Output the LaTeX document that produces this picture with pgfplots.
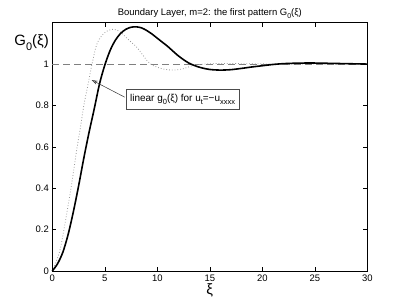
\documentclass[border=0pt]{standalone}
\usepackage{fontspec}
\setmainfont{Liberation Sans}
\usepackage{pgfplots}
\pgfplotsset{compat=1.18}
\usetikzlibrary{arrows.meta}
% lowered subscript, MATLAB style
\newcommand\sub[2]{\raisebox{-0.55ex}{\fontsize{#1}{#1}\selectfont #2}}

\begin{document}
\begin{tikzpicture}
\path[use as bounding box] (-52.3bp,-34bp) rectangle (353.7bp,271bp);
\begin{axis}[
  scale only axis, width=315bp, height=248.3bp,
  xmin=0, xmax=30, ymin=0, ymax=1.2,
  xtick={0,5,...,30}, ytick={0,0.2,0.4,0.6,0.8,1},
  tick align=inside, major tick length=4bp,
  axis line style={line width=0.7pt},
  every tick/.style={black, line width=0.5pt},
  ticklabel style={font=\fontsize{9.5}{10}\selectfont},
  /pgf/number format/assume math mode=true,
  title={Boundary Layer, m=2: the first pattern G\sub{7}{0}(ξ)},
  title style={font=\fontsize{9.5}{10}\selectfont, yshift=-5bp},
  xlabel={ξ}, xlabel style={font=\fontsize{15}{16}\selectfont, yshift=4bp},
  clip=false,
]
\addplot[gray, line width=0.6pt, dash pattern=on 7bp off 4bp] coordinates {(0,1) (30,1)};
\addplot[gray!80, dotted, line width=0.8pt, smooth] coordinates {
(0,0) (0.3,0.035) (0.73,0.1) (1.11,0.2) (1.45,0.3) (1.78,0.4) (2.08,0.5)
(2.37,0.6) (2.7,0.7) (3.0,0.8) (3.4,0.9) (3.74,0.99) (4.2,1.09) (4.6,1.13)
(5.0,1.152) (5.4,1.164) (5.8,1.168) (6.2,1.163) (6.6,1.15) (7.2,1.12)
(8.0,1.084) (8.6,1.045) (9.1,1.012) (9.6,0.993) (10.5,0.977) (11.5,0.971)
(12.5,0.978) (13.4,0.993) (14.5,1.0) (16,1.003) (18,1.002) (20,1.001)
(22,1.0) (25,1.0) (30,1.0)};
\addplot[black, line width=1.6pt, smooth] coordinates {
(0,0) (0.5,0.035) (1.0,0.09) (1.5,0.175) (2.0,0.285) (2.5,0.41) (3.0,0.545)
(3.5,0.67) (4.0,0.785) (4.5,0.905) (5.0,0.995) (5.5,1.065) (6.0,1.115)
(6.5,1.148) (7.0,1.168) (7.5,1.178) (8.0,1.18) (8.5,1.175) (9.0,1.162)
(9.5,1.145) (10,1.125) (10.5,1.105) (11,1.085) (12,1.04) (13,1.005)
(14,0.985) (15,0.974) (16,0.971) (17,0.973) (18,0.979) (19,0.986)
(20,0.992) (21,0.998) (22,1.002) (23,1.004) (24,1.005) (25,1.005)
(26,1.004) (27,1.003) (28,1.002) (29,1.001) (30,1.0)};
\node[draw=black!70, line width=0.5pt, fill=white, inner xsep=4bp,
  font=\fontsize{10}{11}\selectfont, minimum height=20bp]
  at (axis cs:12.41,0.831) {linear g\sub{7.5}{0}(ξ) for u\sub{7.5}{t}=−u\sub{7.5}{xxxx}};
\draw[black!80, line width=0.5pt, -{Stealth[length=6bp, width=4bp, open]}]
  (axis cs:6.9,0.84) -- (axis cs:3.75,0.923);
\node[anchor=east, font=\fontsize{15}{16}\selectfont] at (rel axis cs:0,0.92) {G\sub{11}{0}(ξ)\hspace{5bp}};
\end{axis}
\end{tikzpicture}
\end{document}
